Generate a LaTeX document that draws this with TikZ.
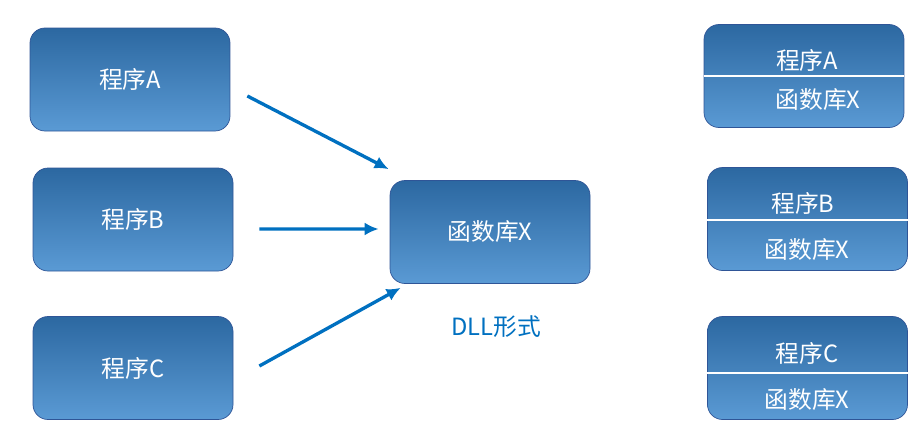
\documentclass[tikz,border=0pt]{standalone}
\usepackage{fontspec}
\newfontfamily\cjk{Noto Sans CJK SC}
\usetikzlibrary{arrows.meta, positioning}

\definecolor{boxtop}{HTML}{2C68A1}
\definecolor{boxbottom}{HTML}{5A9AD4}
\definecolor{boxline}{HTML}{2F5597}
\definecolor{arrowblue}{HTML}{0070C0}

\begin{document}
\begin{tikzpicture}[
  prog/.style={rectangle, draw=boxline, top color=boxtop, bottom color=boxbottom, thin, minimum width=4cm, minimum height=2.06cm, rounded corners=0.3cm, text=white, font=\cjk\fontsize{13.5}{16}\selectfont},
  label/.style={text=white, font=\cjk\fontsize{13.5}{16}\selectfont},
  divider/.style={draw=white, line width=0.6pt},
  arrow/.style={-{Latex[length=2.8mm, width=2.6mm]}, line width=1.9pt, draw=arrowblue},
]
\useasboundingbox (0,0) rectangle (18.4,-8.66);

% Left: programs
\node[prog] (progA) at (2.6,-1.59) {程序A};
\node[prog] (progB) at (2.66,-4.39) {程序B};
\node[prog] (progC) at (2.66,-7.36) {程序C};

% Middle: shared library
\node[prog] (lib) at (9.8,-4.64) {函数库X};
\node[text=arrowblue, font=\cjk\fontsize{13.5}{16}\selectfont] (dll) at (9.92,-6.54) {DLL形式};

% Calls
\draw[arrow] ([xshift=0.34cm,yshift=-0.33cm]progA.east) -- ([xshift=-0.02cm,yshift=0.22cm]lib.north west);
\draw[arrow] ([xshift=0.52cm,yshift=-0.19cm]progB.east) -- ([xshift=-0.22cm,yshift=0.06cm]lib.west);
\draw[arrow] ([xshift=0.52cm,yshift=0.04cm]progC.east) -- ([xshift=0.22cm,yshift=-0.08cm]lib.south west);

% Right: static linking
\node[prog] (boxA) at (16.08,-1.52) {};
\node[prog] (boxB) at (16.15,-4.38) {};
\node[prog] (boxC) at (16.15,-7.36) {};
\draw[divider] (boxA.west) -- (boxA.east);
\draw[divider] ([yshift=-0.02cm]boxB.west) -- ([yshift=-0.02cm]boxB.east);
\draw[divider] ([yshift=-0.1cm]boxC.west) -- ([yshift=-0.1cm]boxC.east);

\node[label] (progA2) at (16.14,-1.2) {程序A};
\node[label] (libA) at (16.36,-2.0) {函数库X};
\node[label] (progB2) at (16.06,-4.06) {程序B};
\node[label] (libB) at (16.14,-5.0) {函数库X};
\node[label] (progC2) at (16.14,-7.06) {程序C};
\node[label] (libC) at (16.14,-8.0) {函数库X};

\end{tikzpicture}
\end{document}
